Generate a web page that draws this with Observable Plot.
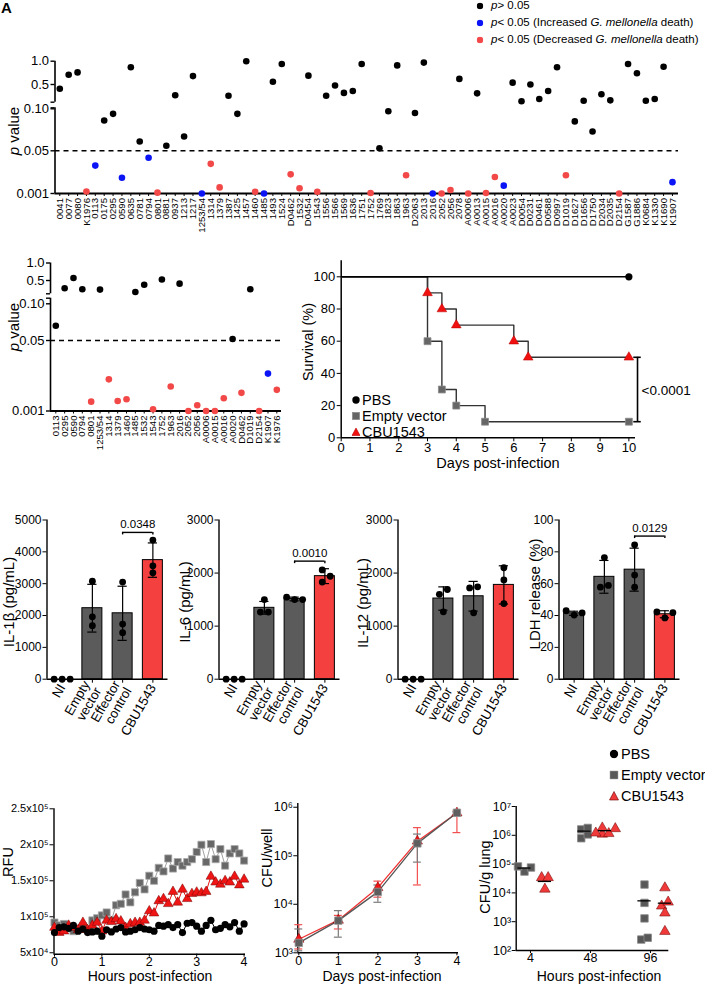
<!DOCTYPE html>
<html><head><meta charset="utf-8">
<script src="https://cdn.jsdelivr.net/npm/d3@7"></script>
<script src="https://cdn.jsdelivr.net/npm/@observablehq/plot@0.6"></script>
<style>
html,body{margin:0;padding:0;background:#fff;}
#fig{position:relative;width:705px;height:984px;overflow:hidden;font-family:"Liberation Sans",Arial,Helvetica,sans-serif;color:#000;background:#fff;}
#fig > svg{position:absolute;overflow:visible;}
.t{position:absolute;white-space:nowrap;line-height:1;}
</style></head><body><div id="fig"></div>
<script>
// ================= DATA =================
// Panel A: screen of strains (p values; effect: ns / inc / dec)
const screenStrains = ["0041","0077","0080","K1976","0113","0175","0295","0590","0635","0781","0794","0801","0881","0937","1213","1217","1253/54","1314","1379","1387","1425","1457","1460","1485","1493","1524","D0462","1532","D0454","1543","1556","1566","1569","1636","1751","1752","1769","1823","1863","1963","D2063","2013","2016","2052","2056","2078","A0006","A0013","A0015","A0016","A0020","A0023","D0054","D0231","D0461","D0588","D0997","D1019","D1627","D1656","D1750","D2034","D2035","D2154","G1587","G1886","K0684","K1330","K1690","K1907"];
const screenP = [0.41,0.71,0.76,0.0033,0.033,0.086,0.094,0.019,0.87,0.061,0.042,0.002,0.056,0.27,0.067,0.68,0.001,0.035,0.008,0.26,0.094,1.0,0.003,0.001,0.56,0.94,0.023,0.007,0.69,0.003,0.26,0.48,0.32,0.36,0.94,0.0015,0.053,0.097,0.91,0.022,0.095,0.97,0.001,0.001,0.005,0.62,0.001,0.31,0.0015,0.020,0.010,0.54,0.14,0.50,0.19,0.36,0.87,0.022,0.085,0.15,0.073,0.29,0.16,0.001,0.94,0.74,0.15,0.19,0.88,0.014];
const screenEffect = ["ns","ns","ns","dec","inc","ns","ns","inc","ns","ns","inc","dec","ns","ns","ns","ns","inc","dec","dec","ns","ns","ns","dec","inc","ns","ns","dec","dec","ns","dec","ns","ns","ns","ns","ns","dec","ns","ns","ns","dec","ns","ns","inc","dec","dec","ns","dec","ns","dec","dec","inc","ns","ns","ns","ns","ns","ns","dec","ns","ns","ns","ns","ns","dec","ns","ns","ns","ns","ns","inc"];
// Panel B: re-test of selected strains
const retestStrains = ["0113","0295","0590","0794","0801","1253/54","1314","1379","1460","1485","1532","1543","1752","1963","2016","2052","2056","A0006","A0015","A0016","A0020","D0462","D1019","D2154","K1907","K1976"];
const retestP = [0.070,0.28,0.57,0.25,0.0075,0.24,0.023,0.008,0.0092,0.17,0.38,0.0022,0.53,0.018,0.41,0.001,0.005,0.001,0.001,0.0099,0.052,0.0136,0.25,0.001,0.027,0.0157];
const retestEffect = ["ns","ns","ns","ns","dec","ns","dec","dec","dec","ns","ns","dec","ns","dec","ns","dec","dec","dec","dec","dec","ns","dec","ns","dec","inc","dec"];
const pTickValues = [0.001, 0.05, 0.10, 0.5, 1.0];
const pTickLabels = ["0.001", "0.05", "0.10", "0.5", "1.0"];
const pBreakKnots = [0.001, 0.05, 0.10, 0.12, 1.0];   // segmented (broken) axis knots

// Panel C: survival
const pbsDays = [0, 10], pbsSurv = [100, 100];
const emptyDays = [0, 3, 3.5, 4, 5, 10], emptySurv = [100, 60, 30, 20, 10, 10];
const cbuDays = [0, 3, 3.5, 4, 6, 6.5, 10], cbuSurv = [100, 90, 80, 70, 60, 50, 50];
const survivalP = "<0.0001";

// Panel D: cytokines / LDH
const barCats = ["NI", "Empty\nvector", "Effector\ncontrol", "CBU1543"];
const il1bMean = [0, 2230, 2070, 3740], il1bSD = [0, 750, 850, 540];
const il1bReps = [[0,0,0],[3080,1960,1680],[3050,1730,1460],[4370,3560,3340]];
const il6Mean = [0, 1345, 1512, 1942], il6SD = [0, 120, 35, 140];
const il6Reps = [[0,0,0],[1500,1265,1265],[1500,1545,1500],[2060,1940,1830]];
const il12Mean = [0, 1520, 1563, 1777], il12SD = [0, 220, 280, 360];
const il12Reps = [[0,0,0],[1690,1600,1270],[1740,1720,1250],[2100,1870,1425]];
const ldhMean = [41.4, 64.3, 68.8, 40.8], ldhSD = [1.3, 10.3, 13.5, 2.2];
const ldhReps = [[40.3,43.0,41.6],[76.4,57.8,58.9],[84.4,65.4,57.8],[41.8,42.2,38.5]];
const sigLabels = ["0.0348", "0.0010", null, "0.0129"];
const sigHeights = [4610, 2225, null, 89.9];

// Panel E: RFU kinetics
const rfuHours = [0,0.1,0.2,0.3,0.4,0.5,0.6,0.7,0.8,0.9,1.0,1.1,1.2,1.3,1.4,1.5,1.6,1.7,1.8,1.9,2.0,2.1,2.2,2.3,2.4,2.5,2.6,2.7,2.8,2.9,3.0,3.1,3.2,3.3,3.4,3.5,3.6,3.7,3.8,3.9,4.0];
const rfuEmpty = [92e3,88e3,90e3,86e3,80e3,83e3,87e3,82e3,95e3,98e3,102e3,106e3,95e3,116e3,118e3,131e3,120e3,134e3,147e3,138e3,157e3,150e3,168e3,163e3,181e3,167e3,176e3,171e3,176e3,180e3,190e3,200e3,176e3,201e3,180e3,194e3,171e3,188e3,194e3,188e3,178e3];
const rfuCBU = [85e3,78e3,80e3,88e3,85e3,82e3,92e3,82e3,88e3,92e3,80e3,95e3,93e3,97e3,94e3,85e3,90e3,92e3,92e3,95e3,108e3,105e3,122e3,125e3,118e3,135e3,120e3,138e3,125e3,132e3,134e3,133e3,135e3,156e3,148e3,145e3,150e3,148e3,156e3,144e3,152e3];
const rfuPBS = [78e3,85e3,86e3,84e3,88e3,80e3,83e3,78e3,79e3,80e3,73e3,82e3,79e3,83e3,85e3,79e3,80e3,82e3,85e3,83e3,82e3,80e3,88e3,87e3,89e3,85e3,89e3,78e3,91e3,92e3,87e3,80e3,88e3,95e3,82e3,84e3,89e3,86e3,92e3,80e3,90e3];
const rfuTicks = [5e4, 1e5, 1.5e5, 2e5, 2.5e5];
const rfuTickLabels = ["5x10⁴", "1x10⁵", "1.5x10⁵", "2x10⁵", "2.5x10⁵"];

// Panel F: CFU/well growth
const growthDays = [0, 1, 2, 3, 4];
const growthEmpty = [1.6e3, 4.6e3, 1.8e4, 1.8e5, 7.7e5];
const growthEmptyLo = [1.1e3, 2.1e3, 1.1e4, 7.4e4, 6.6e5];
const growthEmptyHi = [3.1e3, 7.4e3, 2.5e4, 2.8e5, 8.0e5];
const growthCBU = [1.9e3, 4.7e3, 2.2e4, 2.0e5, 7.6e5];
const growthCBULo = [1.2e3, 3.1e3, 1.4e4, 2.5e4, 3.0e5];
const growthCBUHi = [3.8e3, 5.9e3, 3.0e4, 3.8e5, 8.3e5];
const cfuWellTicks = [1e3, 1e4, 1e5, 1e6];
const cfuWellLabels = ["10³", "10⁴", "10⁵", "10⁶"];

// Panel G: CFU/g lung
const lungHours = ["4", "48", "96"];
const lungEmpty = [[5.5e4, 8.3e4, 7.6e4], [1.6e6, 7.9e5, 1.8e6, 1.07e6], [1.95e4, 4.5e3, 1.3e3, 240, 277]];
const lungCBU = [[3.4e4, 3.4e4, 1.35e4], [1.1e6, 1.8e6, 1.2e6, 1.7e6, 1.15e6], [1.5e4, 3.5e3, 4.8e3, 2.0e3, 460]];
const lungEmptyMean = [7.3e4, 1.4e6, 5.3e3];
const lungCBUMean = [2.5e4, 1.45e6, 4.4e3];
const lungTicks = [1e2, 1e3, 1e4, 1e5, 1e6, 1e7];
const lungTickLabels = ["10²", "10³", "10⁴", "10⁵", "10⁶", "10⁷"];

// ================= HELPERS =================
const fig = document.getElementById("fig");
const FONT = '"Liberation Sans", Arial, Helvetica, sans-serif';
const STYLE = {fontFamily: FONT, fontSize: "12px", color: "#000", background: "transparent", overflow: "visible"};
const effectColor = {ns: "#000000", inc: "#0a14f5", dec: "#f24848"};
const GRAY = "#5b5b5b", RED = "#f54040";
const plain = d => String(d);

function put(svg, left, top) { svg.style.left = left + "px"; svg.style.top = top + "px"; fig.appendChild(svg); }
function label(html, x, y, size, mode) {
  const d = document.createElement("div");
  d.className = "t";
  d.innerHTML = html;
  d.style.left = x + "px"; d.style.top = y + "px"; d.style.fontSize = size + "px";
  d.style.transform = mode === "rot" ? "translate(-50%,-50%) rotate(-90deg)" :
                      mode === "left" ? "translate(0,-50%)" : mode === "tl" ? "none" : "translate(-50%,-50%)";
  fig.appendChild(d);
}
function symbolSVG(type, fill, stroke, s) {
  const h = s / 2;
  let shape;
  if (type === "circle") shape = `<circle cx="${h}" cy="${h}" r="${h - 0.3}" fill="${fill}"/>`;
  else if (type === "square") shape = `<rect x="0.5" y="0.5" width="${s - 1}" height="${s - 1}" fill="${fill}" stroke="${stroke}" stroke-width="0.8"/>`;
  else shape = `<polygon points="${h},0.5 ${s - 0.5},${s - 1} 0.5,${s - 1}" fill="${fill}" stroke="${stroke}" stroke-width="0.6"/>`;
  return `<svg width="${s}" height="${s}" style="display:block">${shape}</svg>`;
}
function legendItem(sx, y, sym, tx, html, size) {
  const s = document.createElement("div");
  s.className = "t"; s.innerHTML = sym;
  s.style.left = sx + "px"; s.style.top = y + "px"; s.style.transform = "translate(-50%,-50%)";
  fig.appendChild(s);
  label(html, tx, y, size, "left");
}
// simple beeswarm: offsets in px for points that would overlap
function swarm(vals, toPx, diam, step) {
  const idx = d3.range(vals.length).sort((a, b) => toPx(vals[a]) - toPx(vals[b]));
  const off = new Array(vals.length).fill(0);
  let cluster = [];
  const flush = () => {
    const placed = [];
    for (const k of cluster) {
      const y = toPx(vals[k]);
      for (let j = 0; j < 20; j++) {
        const o = j === 0 ? 0 : (j % 2 ? 1 : -1) * Math.ceil(j / 2) * step;
        if (placed.every(p => Math.hypot(p.x - o, p.y - y) >= diam)) { placed.push({x: o, y}); off[k] = o; break; }
      }
    }
    const m = d3.mean(cluster, k => off[k]);
    for (const k of cluster) off[k] -= m;
    cluster = [];
  };
  let last = null;
  for (const k of idx) {
    const y = toPx(vals[k]);
    if (last !== null && y - last >= diam) flush();
    cluster.push(k); last = y;
  }
  if (cluster.length) flush();
  return off;
}

// ================= PANEL A / B: broken p-value axis =================
function pPanel({strains, pvals, effects, uKnots, gapLo, left, top, width, height, mL, mR, mT, mB, xLo, xHi}) {
  const pu = d3.scaleLinear().domain(pBreakKnots).range(uKnots).clamp(true);
  const rows = strains.map((s, i) => ({i, s, p: pvals[i], e: effects[i]}));
  const uTop = uKnots[uKnots.length - 1];
  const tickMap = new Map(pTickValues.map((p, k) => [pu(p), pTickLabels[k]]));
  const segs = [[0, gapLo], [uKnots[3], uTop]];
  const svg = Plot.plot({
    width, height, marginLeft: mL, marginRight: mR, marginTop: mT, marginBottom: mB,
    style: STYLE,
    x: {domain: [xLo, xHi]}, y: {domain: [0, uTop]},
    marks: [
      Plot.ruleY([pu(0.05)], {stroke: "#000", strokeWidth: 1.6, strokeDasharray: "5,4"}),
      Plot.ruleX(segs, {x: () => xLo, y1: d => d[0], y2: d => d[1], stroke: "#000", strokeWidth: 1.6}),
      Plot.ruleY([0], {stroke: "#000", strokeWidth: 1.8}),
      Plot.axisY({ticks: [...tickMap.keys(), gapLo, uKnots[3]], tickFormat: d => tickMap.get(d) ?? "", tickSize: 4, tickPadding: 2, fontSize: 13, label: null, strokeWidth: 1.4}),
      Plot.axisX({ticks: rows.map(d => d.i), tickFormat: i => strains[i], tickRotate: -90, fontSize: 9.6, tickSize: 3, tickPadding: 1.5, label: null}),
      Plot.dot(rows, {x: "i", y: d => pu(d.p), r: 3.3, fill: d => effectColor[d.e]})
    ]
  });
  put(svg, left, top);
}
pPanel({strains: screenStrains, pvals: screenP, effects: screenEffect,
  uKnots: [0, 42.7, 84.7, 91.3, 132.3], gapLo: 85.7,
  left: 0, top: 0, width: 705, height: 245, mL: 54.5, mR: 27, mT: 60.7, mB: 52, xLo: -0.54, xHi: 69.68});
pPanel({strains: retestStrains, pvals: retestP, effects: retestEffect,
  uKnots: [0, 70.5, 107.2, 117.2, 148], gapLo: 112.8,
  left: 0, top: 250, width: 290, height: 240, mL: 50, mR: 9, mT: 12.5, mB: 79.5, xLo: -0.6, xHi: 25.53});
label("<b>A</b>", 1, 0, 15, "tl");
label("<i>p</i> value", 13, 131, 15, "rot");
label("<i>p</i> value", 13, 327, 15, "rot");
// legend A
legendItem(479.5, 5.5, symbolSVG("circle", effectColor.ns, "none", 7), 491, "<i>p</i>&gt; 0.05", 11.5);
legendItem(479.5, 22.5, symbolSVG("circle", effectColor.inc, "none", 7), 491, "<i>p</i>&lt; 0.05 (Increased <i>G. mellonella</i> death)", 11.5);
legendItem(479.5, 40, symbolSVG("circle", effectColor.dec, "none", 7), 491, "<i>p</i>&lt; 0.05 (Decreased <i>G. mellonella</i> death)", 11.5);

// ================= PANEL C: survival =================
{
  const mk = (days, surv, g) => days.map((d, i) => ({day: d, surv: surv[i], g, first: i === 0}));
  const pbs = mk(pbsDays, pbsSurv, "PBS"), emp = mk(emptyDays, emptySurv, "Empty"), cbu = mk(cbuDays, cbuSurv, "CBU");
  const xMax = 10.23;
  const bx = d3.max(cbuDays) + 0.3;
  const bracket = [{x: bx, lo: emptySurv[emptySurv.length - 1], hi: cbuSurv[cbuSurv.length - 1]}];
  const svg = Plot.plot({
    width: 415, height: 240, marginLeft: 50.7, marginRight: 70, marginTop: 10.2, marginBottom: 52.7,
    style: STYLE,
    x: {domain: [0, xMax]}, y: {domain: [0, 110]},
    marks: [
      Plot.ruleX([0], {stroke: "#000", strokeWidth: 1.5}),
      Plot.ruleY([0], {stroke: "#000", strokeWidth: 1.5}),
      Plot.axisX({ticks: d3.range(0, 11), tickFormat: plain, tickSize: 4, tickPadding: 0.5, fontSize: 13, label: null}),
      Plot.axisY({ticks: d3.range(0, 101, 20), tickFormat: plain, tickSize: 4, tickPadding: 2, fontSize: 13, label: null}),
      Plot.line(emp, {x: "day", y: "surv", curve: "step-after", stroke: "#333", strokeWidth: 1.4}),
      Plot.line(cbu, {x: "day", y: "surv", curve: "step-after", stroke: "#333", strokeWidth: 1.4}),
      Plot.line(pbs, {x: "day", y: "surv", curve: "step-after", stroke: "#000", strokeWidth: 1.4}),
      Plot.dot(emp.filter(d => !d.first), {x: "day", y: "surv", symbol: "square", r: 3.9, fill: "#666", stroke: "#8a8a8a", strokeWidth: 0.8}),
      Plot.dot(cbu.filter(d => !d.first), {x: "day", y: "surv", symbol: "triangle", r: 3.6, fill: "#f01010", stroke: "#b00", strokeWidth: 0.5}),
      Plot.dot(pbs.filter(d => !d.first), {x: "day", y: "surv", r: 3.6, fill: "#000"}),
      Plot.ruleX(bracket, {x: "x", y1: "lo", y2: "hi", stroke: "#000", strokeWidth: 1.6}),
      Plot.ruleY(bracket, {y: "lo", x1: d => d.x - 0.13, x2: d => d.x + 0.13, stroke: "#000", strokeWidth: 1.6}),
      Plot.ruleY(bracket, {y: "hi", x1: d => d.x - 0.13, x2: d => d.x + 0.13, stroke: "#000", strokeWidth: 1.6}),
      Plot.text(bracket, {x: d => d.x + 0.14, y: d => (d.lo + d.hi) / 2 - 1, text: () => survivalP, textAnchor: "start", fontSize: 13.5, fill: "#000"})
    ]
  });
  put(svg, 290, 250);
  label("Survival (%)", 308, 342, 14.5, "rot");
  label("Days post-infection", 498, 463, 14.5);
  legendItem(355.7, 399.5, symbolSVG("circle", "#000", "none", 8), 362, "PBS", 14.5);
  legendItem(355.7, 415.5, symbolSVG("square", "#666", "#8a8a8a", 8), 362, "Empty vector", 14.5);
  legendItem(355.7, 431.5, symbolSVG("triangle", "#f01010", "#b00", 9), 362, "CBU1543", 14.5);
}

// ================= PANEL D: bar charts =================
function barPanel({left, means, sds, reps, ymax, yStep, sig, sigY}) {
  const plotH = 250 - 19.5 - 71.3, unit = 121 / 4;
  const rows = barCats.map((c, i) => ({i, mean: means[i], sd: sds[i]}));
  const dots = [];
  reps.forEach((vals, i) => {
    const off = swarm(vals, v => v / ymax * plotH, 6.8, 8);
    vals.forEach((v, k) => dots.push({x: i + off[k] / unit, v}));
  });
  const hw = 10 / unit, cap = 4.6 / unit;
  const err = rows.filter(d => d.sd > 0);
  const marks = [
    Plot.rectY(rows, {x1: d => d.i - hw, x2: d => d.i + hw, y1: 0, y2: "mean", fill: d => d.i === 3 ? RED : GRAY, stroke: "#000", strokeWidth: 1}),
    Plot.ruleX(err, {x: "i", y1: d => d.mean - d.sd, y2: d => d.mean + d.sd, stroke: "#000", strokeWidth: 1.2}),
    Plot.ruleY(err, {y: d => d.mean + d.sd, x1: d => d.i - cap, x2: d => d.i + cap, stroke: "#000", strokeWidth: 1.2}),
    Plot.ruleY(err, {y: d => d.mean - d.sd, x1: d => d.i - cap, x2: d => d.i + cap, stroke: "#000", strokeWidth: 1.2}),
    Plot.ruleX([-0.5], {stroke: "#000", strokeWidth: 1.4}),
    Plot.ruleY([0], {stroke: "#000", strokeWidth: 1.4}),
    Plot.dot(dots, {x: "x", y: "v", r: 3.4, fill: "#000"}),
    Plot.axisY({ticks: d3.range(0, ymax + 1, yStep), tickFormat: plain, tickSize: 4, tickPadding: 1.5, fontSize: 12, label: null}),
    Plot.axisX({ticks: [0, 1, 2, 3], tickFormat: i => barCats[i], tickRotate: -60, tickSize: 4, tickPadding: 2, fontSize: 13.2, label: null})
  ];
  if (sig) {
    const s = [{a: 2, b: 3, y: sigY, t: sig}];
    const drop = ymax * 2.5 / plotH;
    marks.push(
      Plot.ruleY(s, {y: "y", x1: "a", x2: "b", stroke: "#000", strokeWidth: 1.4}),
      Plot.ruleX(s, {x: "a", y1: d => d.y - drop, y2: "y", stroke: "#000", strokeWidth: 1.4}),
      Plot.ruleX(s, {x: "b", y1: d => d.y - drop, y2: "y", stroke: "#000", strokeWidth: 1.4}),
      Plot.text(s, {x: d => (d.a + d.b) / 2, y: "y", text: "t", dy: -8, fontSize: 11.5, fill: "#000"})
    );
  }
  const svg = Plot.plot({
    width: 175, height: 250, marginLeft: 46.5, marginRight: 7.5, marginTop: 19.5, marginBottom: 71.3,
    style: STYLE, x: {domain: [-0.5, 3.5]}, y: {domain: [0, ymax]}, marks
  });
  put(svg, left, 500);
}
barPanel({left: 0.2, means: il1bMean, sds: il1bSD, reps: il1bReps, ymax: 5000, yStep: 1000, sig: sigLabels[0], sigY: sigHeights[0]});
barPanel({left: 172, means: il6Mean, sds: il6SD, reps: il6Reps, ymax: 3000, yStep: 1000, sig: sigLabels[1], sigY: sigHeights[1]});
barPanel({left: 351, means: il12Mean, sds: il12SD, reps: il12Reps, ymax: 3000, yStep: 1000, sig: sigLabels[2], sigY: sigHeights[2]});
barPanel({left: 512, means: ldhMean, sds: ldhSD, reps: ldhReps, ymax: 100, yStep: 20, sig: sigLabels[3], sigY: sigHeights[3]});
label("IL-1β (pg/mL)", 8, 602, 15, "rot");
label("IL-6 (pg/mL)", 184, 602, 15, "rot");
label("IL-12 (pg/mL)", 362, 603, 15, "rot");
label("LDH release (%)", 534, 594, 15, "rot");

// ================= PANEL E: RFU =================
{
  const mk = arr => rfuHours.map((t, i) => ({t, v: arr[i]}));
  const emp = mk(rfuEmpty), cbu = mk(rfuCBU), pbs = mk(rfuPBS);
  const svg = Plot.plot({
    width: 255, height: 224, marginLeft: 53.5, marginRight: 10, marginTop: 48.3, marginBottom: 30.3,
    style: STYLE, x: {domain: [-0.01, 4.03]}, y: {domain: [48000, 250000]},
    marks: [
      Plot.ruleX([-0.01], {stroke: "#000", strokeWidth: 1.4}),
      Plot.ruleY([48000], {stroke: "#000", strokeWidth: 1.4}),
      Plot.axisY({ticks: rfuTicks, tickFormat: d => rfuTickLabels[rfuTicks.indexOf(d)], tickSize: 4, tickPadding: 1.5, fontSize: 11, label: null}),
      Plot.axisX({ticks: [0, 1, 2, 3, 4], tickFormat: plain, tickSize: 3, tickPadding: 0, fontSize: 12.5, label: null}),
      Plot.line(emp, {x: "t", y: "v", stroke: "#a0a0a0", strokeWidth: 1}),
      Plot.dot(emp, {x: "t", y: "v", symbol: "square", r: 4, fill: "#686868", stroke: "#a8a8a8", strokeWidth: 0.8}),
      Plot.line(cbu, {x: "t", y: "v", stroke: "#e81010", strokeWidth: 1}),
      Plot.dot(cbu, {x: "t", y: "v", symbol: "triangle", r: 3.6, fill: "#f01515", stroke: "#700", strokeWidth: 0.5}),
      Plot.line(pbs, {x: "t", y: "v", stroke: "#000", strokeWidth: 1}),
      Plot.dot(pbs, {x: "t", y: "v", r: 3.6, fill: "#000"})
    ]
  });
  put(svg, 0, 760);
  label("RFU", 7.5, 862, 14.5, "rot");
  label("Hours post-infection", 150, 976, 14);
}

// ================= PANEL F: CFU/well =================
{
  const mk = (m, lo, hi) => growthDays.map((d, i) => ({d, m: m[i], lo: lo[i], hi: hi[i]}));
  const emp = mk(growthEmpty, growthEmptyLo, growthEmptyHi), cbu = mk(growthCBU, growthCBULo, growthCBUHi);
  const c = 0.1;
  const errs = (data, color) => [
    Plot.ruleX(data, {x: "d", y1: "lo", y2: "hi", stroke: color, strokeWidth: 1.2}),
    Plot.ruleY(data, {y: "lo", x1: d => d.d - c, x2: d => d.d + c, stroke: color, strokeWidth: 1.2}),
    Plot.ruleY(data, {y: "hi", x1: d => d.d - c, x2: d => d.d + c, stroke: color, strokeWidth: 1.2})
  ];
  const svg = Plot.plot({
    width: 215, height: 224, marginLeft: 42.3, marginRight: 12, marginTop: 42.9, marginBottom: 31.7,
    style: STYLE, x: {domain: [-0.025, 4.04]}, y: {type: "log", domain: [1e3, 1.2e6]},
    marks: [
      Plot.ruleX([-0.025], {stroke: "#000", strokeWidth: 1.4}),
      Plot.ruleY([1e3], {stroke: "#000", strokeWidth: 1.4}),
      Plot.axisY({ticks: cfuWellTicks, tickFormat: d => cfuWellLabels[cfuWellTicks.indexOf(d)], tickSize: 4, tickPadding: 1, fontSize: 12.5, label: null}),
      Plot.axisX({ticks: [0, 1, 2, 3, 4], tickFormat: plain, tickSize: 3, tickPadding: 0, fontSize: 12.5, label: null}),
      ...errs(cbu, "#f25050"),
      ...errs(emp, "#7a7a7a"),
      Plot.line(cbu, {x: "d", y: "m", stroke: "#f03030", strokeWidth: 1.3}),
      Plot.line(emp, {x: "d", y: "m", stroke: "#555", strokeWidth: 1.3}),
      Plot.dot(cbu, {x: "d", y: "m", symbol: "triangle", r: 3.8, fill: "#f01515", stroke: "#700", strokeWidth: 0.5}),
      Plot.dot(emp, {x: "d", y: "m", symbol: "square", r: 4.2, fill: "#5e5e5e", stroke: "#999", strokeWidth: 0.8})
    ]
  });
  put(svg, 255, 760);
  label("CFU/well", 267, 858, 14.5, "rot");
  label("Days post-infection", 382, 976, 14);
}

// ================= PANEL G: CFU/g lung =================
{
  const pxPerDecade = 28.8, unit = 60;
  const groupShift = {Empty: -0.1, CBU: 0.24};
  const pts = [], means = [];
  const add = (sets, meanVals, g) => sets.forEach((vals, h) => {
    const off = swarm(vals, v => Math.log10(v) * pxPerDecade, 6, 6.5);
    vals.forEach((v, k) => pts.push({x: h + groupShift[g] + off[k] / unit, v, g}));
    means.push({x: h + groupShift[g], v: meanVals[h], g});
  });
  add(lungEmpty, lungEmptyMean, "Empty");
  add(lungCBU, lungCBUMean, "CBU");
  const xLo = -0.238;
  const svg = Plot.plot({
    width: 235, height: 224, marginLeft: 45.7, marginRight: 36.7, marginTop: 46, marginBottom: 34,
    style: STYLE, x: {domain: [xLo, 2.305]}, y: {type: "log", domain: [1e2, 1e7]},
    marks: [
      Plot.ruleX([xLo], {stroke: "#000", strokeWidth: 1.4}),
      Plot.ruleY([1e2], {stroke: "#000", strokeWidth: 1.4}),
      Plot.axisY({ticks: lungTicks, tickFormat: d => lungTickLabels[lungTicks.indexOf(d)], tickSize: 4, tickPadding: 1, fontSize: 12.5, label: null}),
      Plot.axisX({ticks: [0, 1, 2], tickFormat: i => lungHours[i], tickSize: 3, tickPadding: 0, fontSize: 12.5, label: null}),
      Plot.dot(pts.filter(d => d.g === "Empty"), {x: "x", y: "v", symbol: "square", r: 4.2, fill: "#585858", stroke: "#8a8a8a", strokeWidth: 0.8}),
      Plot.dot(pts.filter(d => d.g === "CBU"), {x: "x", y: "v", symbol: "triangle", r: 3.9, fill: "#f03a3a", stroke: "#600", strokeWidth: 0.5}),
      Plot.ruleY(means, {y: "v", x1: d => d.x - 0.11, x2: d => d.x + 0.11, stroke: "#000", strokeWidth: 1.3})
    ]
  });
  put(svg, 470, 760);
  label("CFU/g lung", 485, 877, 14.5, "rot");
  label("Hours post-infection", 599, 976, 14);
  legendItem(613.5, 753.5, symbolSVG("circle", "#000", "none", 9), 621, "PBS", 14.5);
  legendItem(613.5, 774.5, symbolSVG("square", "#585858", "#8a8a8a", 9), 621, "Empty vector", 14.5);
  legendItem(613.5, 795.5, symbolSVG("triangle", "#f03a3a", "#600", 10), 621, "CBU1543", 14.5);
}
</script></body></html>
